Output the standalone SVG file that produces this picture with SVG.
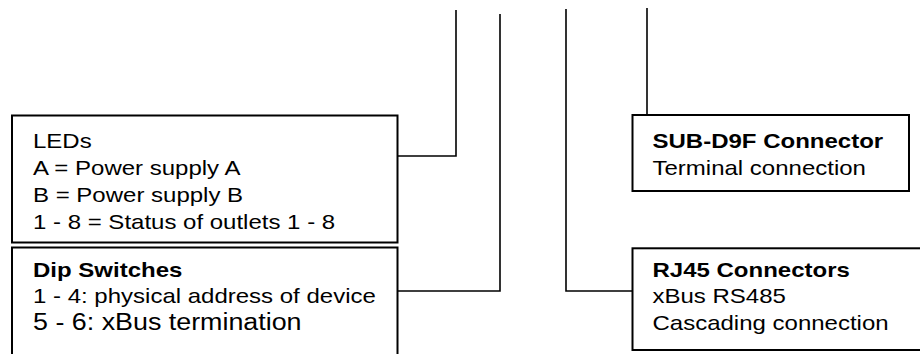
<svg xmlns="http://www.w3.org/2000/svg" width="920" height="354" viewBox="0 0 920 354">
  <style>
    .box { fill: #ffffff; stroke: #000000; stroke-width: 2; }
    .wire { fill: none; stroke: #000000; stroke-width: 1.6; }
    .t { font-family: "Liberation Sans", Arial, sans-serif; font-size: 21px; fill: #000000; }
    .b { font-weight: bold; }
    .big { font-size: 23.5px; }
  </style>
  <rect width="920" height="354" fill="#ffffff"/>
  <g id="connectors">
    <polyline class="wire" points="398,156 456,156 456,10"/>
    <polyline class="wire" points="398,291 500,291 500,14"/>
    <polyline class="wire" points="632,291 566,291 566,9"/>
    <polyline class="wire" points="647,115 647,8"/>
  </g>
  <g id="leds">
    <rect class="box" x="12" y="115.5" width="385.5" height="127"/>
    <g transform="translate(33 0) scale(1.143 1)">
      <text class="t" x="0" y="148.5">LEDs</text>
      <text class="t" x="0" y="175.5">A = Power supply A</text>
      <text class="t" x="0" y="202.5">B = Power supply B</text>
      <text class="t" x="0" y="229.5">1 - 8 = Status of outlets 1 - 8</text>
    </g>
  </g>
  <g id="dip">
    <rect class="box" x="12" y="247.5" width="385.5" height="120"/>
    <g transform="translate(33 0) scale(1.143 1)">
      <text class="t b" x="0" y="277.5">Dip Switches</text>
      <text class="t" x="0" y="303">1 - 4: physical address of device</text>
      <text class="t big" x="0" y="330">5 - 6: xBus termination</text>
    </g>
  </g>
  <g id="subd">
    <rect class="box" x="632.5" y="115" width="276.5" height="76"/>
    <g transform="translate(652.5 0) scale(1.143 1)">
      <text class="t b" x="0" y="148.3">SUB-D9F Connector</text>
      <text class="t" x="0" y="175">Terminal connection</text>
    </g>
  </g>
  <g id="rj45">
    <rect class="box" x="632.5" y="248.3" width="300" height="101.7"/>
    <g transform="translate(652.5 0) scale(1.143 1)">
      <text class="t b" x="0" y="276.7">RJ45 Connectors</text>
      <text class="t" x="0" y="303.3">xBus RS485</text>
      <text class="t" x="0" y="330">Cascading connection</text>
    </g>
  </g>
</svg>
